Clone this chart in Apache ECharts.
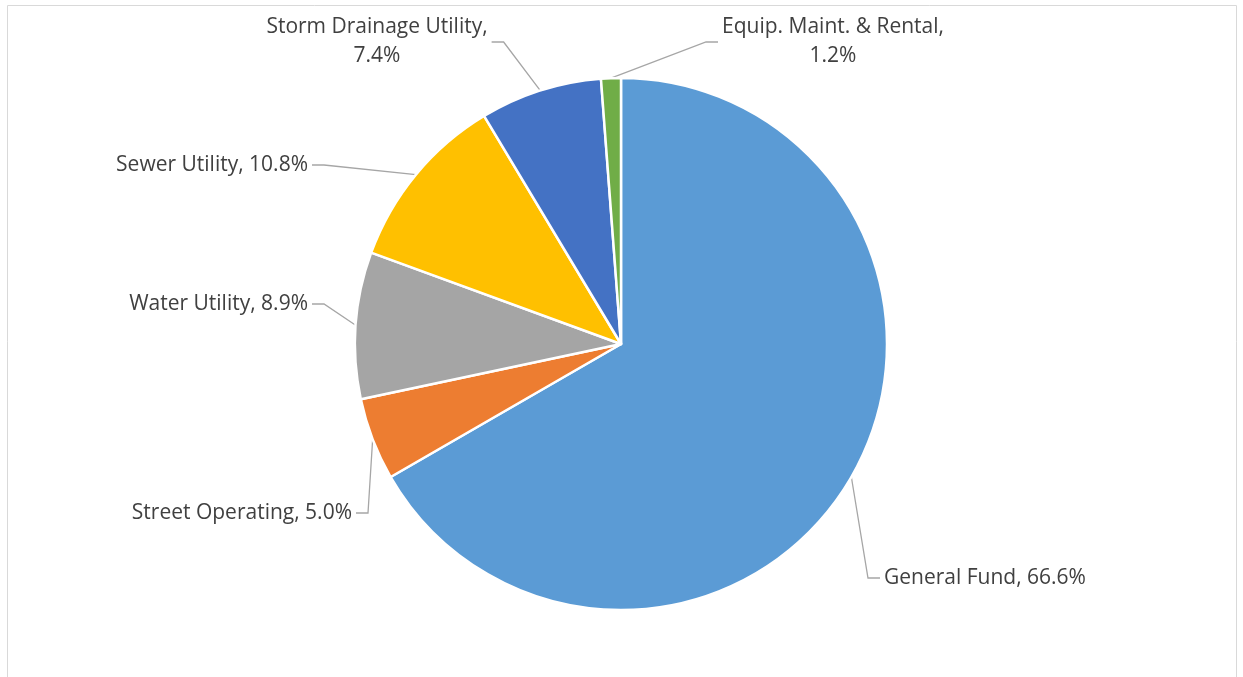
<!DOCTYPE html>
<html>
<head>
<meta charset="utf-8">
<title>Fund share</title>
<script src="https://cdn.jsdelivr.net/npm/echarts@6/dist/echarts.min.js"></script>
<style>
  html, body { margin: 0; padding: 0; background: #fff; }
  #chart { width: 1243px; height: 677px; }
</style>
</head>
<body>
<div id="chart"></div>
<script>
// data (percent of total)
var funds = ['General Fund', 'Street Operating', 'Water Utility', 'Sewer Utility', 'Storm Drainage Utility', 'Equip. Maint. & Rental'];
var shares = [66.6, 5.0, 8.9, 10.8, 7.4, 1.2];
var colors = ['#5B9BD5', '#ED7D31', '#A5A5A5', '#FFC000', '#4472C4', '#70AD47'];

// where each label sits, like the excel layout
var labelSpots = [
    { x: 880, y: 578, align: 'left', wrap: false },
    { x: 356, y: 513, align: 'right', wrap: false },
    { x: 312, y: 304, align: 'right', wrap: false },
    { x: 312, y: 165, align: 'right', wrap: false },
    { x: 377, y: 42, align: 'center', wrap: true },
    { x: 833, y: 42, align: 'center', wrap: true }
];

var chart = echarts.init(document.getElementById('chart'));

var pieData = funds.map(function (name, i) {
    return { name: name, value: shares[i], itemStyle: { color: colors[i] } };
});

var option = {
    animation: false,
    graphic: [{
        type: 'rect',
        shape: { x: 7.5, y: 5.5, width: 1229, height: 700 },
        style: { fill: null, stroke: '#d9d9d9', lineWidth: 1 },
        silent: true
    }],
    series: [{
        type: 'pie',
        center: [621, 344],
        radius: 266,
        startAngle: 90,
        clockwise: true,
        data: pieData,
        itemStyle: { borderColor: '#fff', borderWidth: 2.5 },
        label: {
            show: true,
            color: '#404040',
            fontFamily: 'Open Sans',
            fontSize: 21,
            lineHeight: 29,
            padding: [0, 4],
            formatter: function (p) {
                var sep = labelSpots[p.dataIndex].wrap ? ',\n' : ', ';
                return p.name + sep + p.value.toFixed(1) + '%';
            }
        },
        labelLine: {
            show: true,
            length: 20,
            length2: 12,
            lineStyle: { color: '#a6a6a6', width: 1.3 }
        },
        labelLayout: function (params) {
            var s = labelSpots[params.dataIndex];
            return {
                x: s.x,
                y: s.y,
                align: s.align,
                verticalAlign: 'middle'
            };
        },
        emphasis: { disabled: true }
    }]
};

chart.setOption(option);
</script>
</body>
</html>
